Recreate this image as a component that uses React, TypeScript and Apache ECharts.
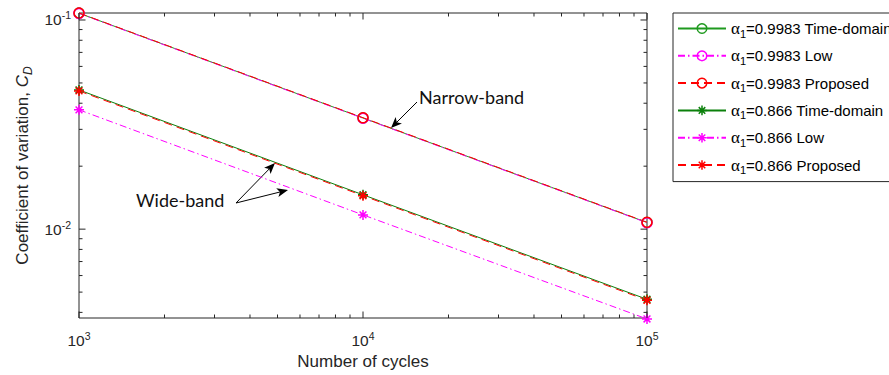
import React, { useEffect, useRef } from "react";
import * as echarts from "echarts";

// ---------- data ----------
const cycles = [1e3, 1e4, 1e5];
const narrowTimeDomain = [0.1078, 0.034, 0.01076];
const narrowLow = [0.1075, 0.0339, 0.01073];
const narrowProposed = [0.108, 0.0341, 0.01079];
const wideTimeDomain = [0.0463, 0.0146, 0.00462];
const wideLow = [0.0372, 0.0117, 0.00372];
const wideProposed = [0.0458, 0.01445, 0.00457];

const seriesNames = [
  "α1=0.9983 Time-domain",
  "α1=0.9983 Low",
  "α1=0.9983 Proposed",
  "α1=0.866 Time-domain",
  "α1=0.866 Low",
  "α1=0.866 Proposed",
];

const xRange = [1e3, 1e5];
const yRange = [0.00376, 0.108];
const xMajorTicks = [1e3, 1e4, 1e5];
const xMinorTicks = [2e3, 3e3, 4e3, 5e3, 6e3, 7e3, 8e3, 9e3, 2e4, 3e4, 4e4, 5e4, 6e4, 7e4, 8e4, 9e4];
const yMajorTicks = [0.01, 0.1];
const yMinorTicks = [0.004, 0.005, 0.006, 0.007, 0.008, 0.009, 0.02, 0.03, 0.04, 0.05, 0.06, 0.07, 0.08, 0.09];

const xTitle = "Number of cycles";
const yTitleText = "Coefficient of variation, ";
const narrowLabel = "Narrow-band";
const wideLabel = "Wide-band";

// ---------- styles ----------
const AX = "#262626";
const FONT = "Liberation Sans";
const GREEN1 = "#1f9a1f";
const GREEN2 = "#0b800b";
const MAGENTA = "#ff00ff";
const RED = "#ff0000";
const STAR = "path://M0,5L10,5M5,0L5,10M1.6,1.6L8.4,8.4M8.4,1.6L1.6,8.4";

function powLabel(v: number) {
  const e = Math.log10(v);
  const r = Math.round(e);
  if (Math.abs(e - r) > 1e-6) return "";
  return `{b|10}{s|${r < 0 ? "-" + Math.abs(r) : r}}`;
}

const tickRich = {
  b: { fontSize: 15.5, fontFamily: FONT, color: AX, lineHeight: 20 },
  s: { fontSize: 10.5, fontFamily: FONT, color: AX, lineHeight: 10, verticalAlign: "top" },
};

function arrow(x1: number, y1: number, x2: number, y2: number) {
  const dx = x2 - x1;
  const dy = y2 - y1;
  const L = Math.hypot(dx, dy);
  const ux = dx / L;
  const uy = dy / L;
  const px = -uy;
  const py = ux;
  const hl = 11;
  const hw = 4.5;
  const bx = x2 - hl * ux;
  const by = y2 - hl * uy;
  const ix = x2 - 0.75 * hl * ux;
  const iy = y2 - 0.75 * hl * uy;
  return [
    {
      type: "line",
      shape: { x1, y1, x2: ix, y2: iy },
      style: { stroke: "#000", lineWidth: 1 },
      silent: true,
    },
    {
      type: "polygon",
      shape: {
        points: [
          [x2, y2],
          [bx + hw * px, by + hw * py],
          [ix, iy],
          [bx - hw * px, by - hw * py],
        ],
      },
      style: { fill: "#000" },
      silent: true,
    },
  ];
}

function makeSeries(
  name: string,
  vals: number[],
  color: string,
  dash: any,
  symbol: string,
  symbolSize: number
) {
  return {
    name,
    type: "line",
    data: cycles.map((c, i) => [c, vals[i]]),
    symbol,
    symbolSize,
    showSymbol: true,
    clip: false,
    lineStyle: { color, width: 1, type: dash },
    itemStyle: { color: "transparent", borderColor: color, borderWidth: 1.5 },
    emphasis: { disabled: true },
  };
}

export default function App() {
  const ref = useRef<HTMLDivElement>(null);
  useEffect(() => {
    if (!ref.current) return;
    const chart = echarts.init(ref.current, null, { renderer: "svg" });

    const tickData: number[][] = [
      ...xMajorTicks.map((v) => [v, yRange[0], 0]),
      ...xMinorTicks.map((v) => [v, yRange[0], 1]),
      ...yMajorTicks.map((v) => [xRange[0], v, 2]),
      ...yMinorTicks.map((v) => [xRange[0], v, 3]),
    ];

    const dashDot = [7, 3, 1.5, 3];
    const dashed = [8, 5];

    const option: any = {
      animation: false,
      grid: {
        left: 79,
        right: 242,
        top: 13,
        bottom: 57,
        show: true,
        borderColor: AX,
        borderWidth: 1,
        backgroundColor: "transparent",
      },
      legend: {
        orient: "vertical",
        left: 673,
        top: 13,
        padding: [7, 12, 6, 4],
        itemWidth: 48,
        itemHeight: 12,
        itemGap: 8.2,
        borderColor: AX,
        borderWidth: 1,
        backgroundColor: "#fff",
        borderRadius: 0,
        selectedMode: false,
        itemStyle: { color: "transparent", borderWidth: 1.5 },
        data: seriesNames,
        formatter: (name: string) => `{a|α}{s|1}{t|${name.slice(2)}}`,
        textStyle: {
          color: "#000",
          fontFamily: FONT,
          fontSize: 15,
          rich: {
            a: { fontFamily: "Liberation Serif", fontSize: 17, color: "#000", lineHeight: 21.2 },
            s: { fontFamily: FONT, fontSize: 11, color: "#000", lineHeight: 6, verticalAlign: "bottom" },
            t: { fontFamily: FONT, fontSize: 15, color: "#000", lineHeight: 21.2 },
          },
        },
      },
      xAxis: {
        type: "log",
        logBase: 10,
        min: xRange[0],
        max: xRange[1],
        axisLine: { show: false },
        axisTick: { show: false },
        splitLine: { show: false },
        minorTick: { show: false },
        axisLabel: {
          formatter: (v: number) => powLabel(v),
          margin: 12,
          rich: tickRich,
        },
        name: xTitle,
        nameLocation: "middle",
        nameGap: 33,
        nameTextStyle: { fontSize: 17, fontFamily: FONT, color: AX },
      },
      yAxis: {
        type: "log",
        logBase: 10,
        min: yRange[0],
        max: yRange[1],
        axisLine: { show: false },
        axisTick: { show: false },
        splitLine: { show: false },
        minorTick: { show: false },
        axisLabel: {
          formatter: (v: number) => powLabel(v),
          margin: 8,
          showMinLabel: false,
          showMaxLabel: false,
          rich: tickRich,
        },
        name: `{t|${yTitleText}}{c|C}{d|D}`,
        nameLocation: "middle",
        nameRotate: 90,
        nameGap: 44,
        nameTextStyle: {
          fontSize: 17,
          fontFamily: FONT,
          color: AX,
          rich: {
            t: { fontSize: 17, fontFamily: FONT, color: AX, lineHeight: 22 },
            c: { fontSize: 17, fontFamily: FONT, color: AX, lineHeight: 22, fontStyle: "italic" },
            d: { fontSize: 12, fontFamily: FONT, color: AX, lineHeight: 8, verticalAlign: "bottom", fontStyle: "italic" },
          },
        },
      },
      series: [
        makeSeries(seriesNames[0], narrowTimeDomain, GREEN1, "solid", "circle", 10),
        makeSeries(seriesNames[1], narrowLow, MAGENTA, dashDot, "circle", 10),
        makeSeries(seriesNames[2], narrowProposed, RED, dashed, "circle", 10),
        makeSeries(seriesNames[3], wideTimeDomain, GREEN2, "solid", STAR, 10),
        makeSeries(seriesNames[4], wideLow, MAGENTA, dashDot, STAR, 10),
        makeSeries(seriesNames[5], wideProposed, RED, dashed, STAR, 10),
        {
          type: "custom",
          name: "ticks",
          silent: true,
          z: 10,
          data: tickData,
          encode: { x: 0, y: 1 },
          renderItem: (params: any, api: any) => {
            const kind = api.value(2);
            const major = kind === 0 || kind === 2;
            const len = major ? 6.5 : 3.5;
            const style = { stroke: AX, lineWidth: 1 };
            if (kind < 2) {
              const v = api.value(0);
              const b = api.coord([v, yRange[0]]);
              const t = api.coord([v, yRange[1]]);
              return {
                type: "group",
                children: [
                  { type: "line", shape: { x1: b[0], y1: b[1], x2: b[0], y2: b[1] - len }, style },
                  { type: "line", shape: { x1: t[0], y1: t[1], x2: t[0], y2: t[1] + len }, style },
                ],
              };
            }
            const v = api.value(1);
            const l = api.coord([xRange[0], v]);
            const r = api.coord([xRange[1], v]);
            return {
              type: "group",
              children: [
                { type: "line", shape: { x1: l[0], y1: l[1], x2: l[0] + len, y2: l[1] }, style },
                { type: "line", shape: { x1: r[0], y1: r[1], x2: r[0] - len, y2: r[1] }, style },
              ],
            };
          },
        },
      ],
      graphic: [
        {
          type: "text",
          left: 419,
          top: 88,
          silent: true,
          style: { text: narrowLabel, font: "18px Lato", fill: "#111" },
        },
        {
          type: "text",
          left: 136,
          top: 191,
          silent: true,
          style: { text: wideLabel, font: "18px Lato", fill: "#111" },
        },
        ...arrow(417, 102, 391, 128),
        ...arrow(236, 203, 275, 163),
        ...arrow(236, 203, 288, 190),
      ],
    };

    chart.setOption(option);
    return () => chart.dispose();
  }, []);

  return (
    <div
      ref={ref}
      style={{ position: "fixed", left: 0, top: 0, width: 889, height: 375, background: "#fff" }}
    />
  );
}
